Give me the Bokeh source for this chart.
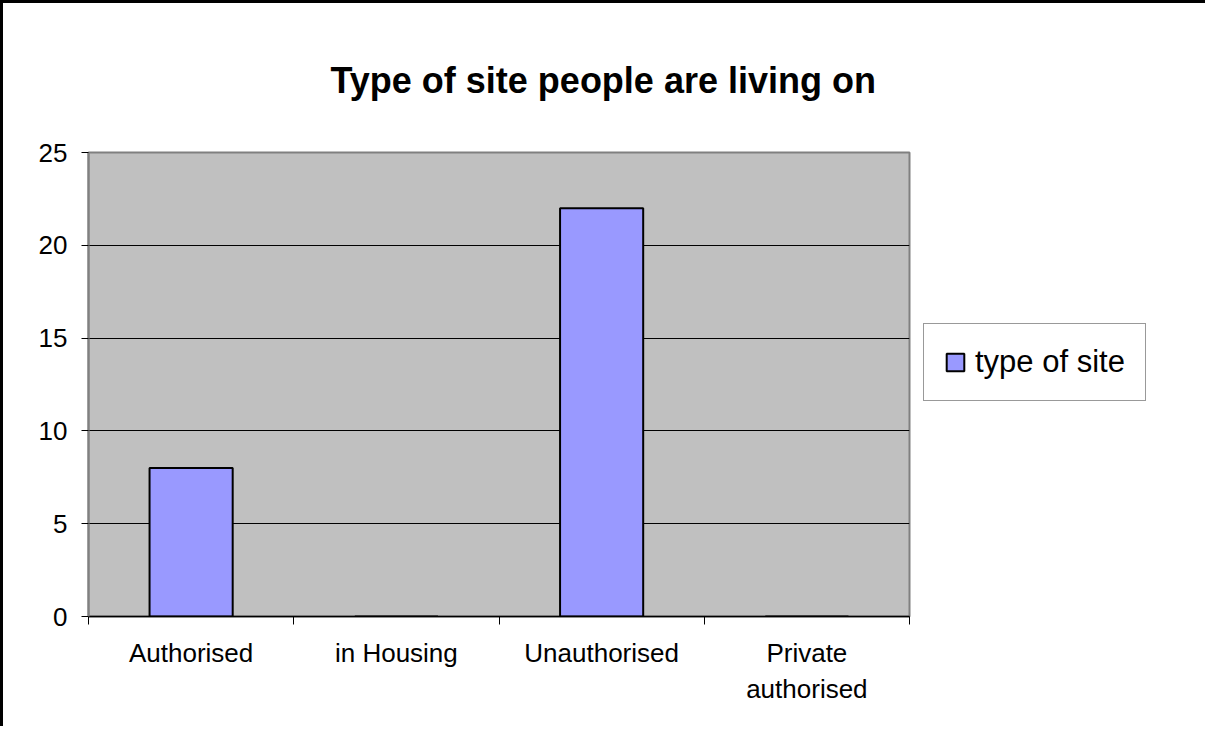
from bokeh.plotting import figure
from bokeh.models import (Range1d, FixedTicker, CustomJSTickFormatter, Legend, LegendItem,
                          ColumnDataSource, Title)
from bokeh.embed import file_html
from bokeh.resources import INLINE

# ---- data ----
categories = ["Authorised", "in Housing", "Unauthorised", "Private\nauthorised"]
values = [8, 0, 22, 0]
series_name = "type of site"
title_text = "Type of site people are living on"
y_ticks = [0, 5, 10, 15, 20, 25]

FONT = "Liberation Sans"

positions = [i + 0.5 for i in range(len(categories))]
src = ColumnDataSource(dict(x=positions, top=values))

p = figure(frame_width=821, frame_height=464, output_backend="svg", toolbar_location=None,
           x_range=Range1d(0, len(categories)), y_range=Range1d(0, 25),
           min_border_left=85, min_border_right=277, min_border_top=149, min_border_bottom=110)
p.styles = {"border-top": "3px solid black", "border-left": "3px solid black",
            "border-right": "3px solid black"}

p.background_fill_color = "#C0C0C0"
p.border_fill_color = "white"
p.outline_line_color = "#808080"
p.outline_line_width = 2

r = p.vbar(x="x", top="top", width=0.405, bottom=0, source=src,
           fill_color="#9999FF", line_color="black", line_width=2)

# x axis
xa = p.xaxis[0]
xa.ticker = FixedTicker(ticks=positions, minor_ticks=list(range(len(categories) + 1)))
xa.formatter = CustomJSTickFormatter(args=dict(labels=categories),
                                     code="return labels[Math.floor(tick)];")
xa.major_tick_out = 0
xa.major_tick_in = 0
xa.minor_tick_out = 8
xa.minor_tick_in = 0
xa.minor_tick_line_color = "black"
xa.axis_line_color = "black"
xa.axis_line_width = 1.5
xa.major_label_text_font = FONT
xa.major_label_text_font_size = "26px"
xa.major_label_text_color = "black"
xa.major_label_standoff = 13

# y axis
ya = p.yaxis[0]
ya.ticker = FixedTicker(ticks=y_ticks)
ya.major_tick_out = 7
ya.major_tick_in = 0
ya.minor_tick_line_color = None
ya.major_tick_line_color = "black"
ya.axis_line_color = "#808080"
ya.axis_line_width = 2
ya.major_label_text_font = FONT
ya.major_label_text_font_size = "26px"
ya.major_label_text_color = "black"
ya.major_label_standoff = 14

p.xgrid.grid_line_color = None
p.ygrid.ticker = FixedTicker(ticks=y_ticks[1:-1])
p.ygrid.grid_line_color = "black"
p.ygrid.grid_line_width = 1

t = Title(text=title_text, align="left", offset=242, text_font=FONT,
          text_font_size="36px", text_font_style="bold", text_color="black", standoff=104)
p.add_layout(t, "above")

legend = Legend(items=[LegendItem(label=series_name, renderers=[r])], location=(14, 215),
                label_text_font=FONT, label_text_font_size="31px", label_text_color="black",
                glyph_width=22, glyph_height=22, label_standoff=9, padding=20, margin=0,
                border_line_color="#333333", border_line_width=1.5,
                background_fill_color="white", background_fill_alpha=1.0, spacing=0)
p.add_layout(legend, "right")

open("out.html", "w").write(file_html(p, INLINE))
